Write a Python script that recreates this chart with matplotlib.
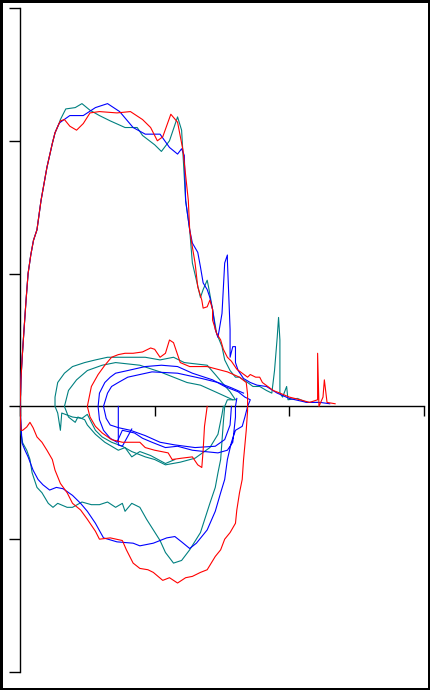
import matplotlib
matplotlib.use("Agg")
import matplotlib.pyplot as plt
from matplotlib.patches import Rectangle

RED = "#ff0000"
BLUE = "#0000ff"
TEAL = "#008080"

# volume (L) on x, flow (L/s) on y
# common steep rise of the forced expiration
rise_x = [0.0, 0.004, 0.007, 0.015, 0.03, 0.045, 0.06, 0.08, 0.10, 0.126, 0.156, 0.20, 0.24, 0.26, 0.29]
rise_y = [0.0, 0.087, 0.20, 0.35, 0.58, 0.80, 1.00, 1.14, 1.25, 1.33, 1.55, 1.80, 1.98, 2.06, 2.13]

# forced expiration, rest of curve
red_exp_x = [0.30, 0.33, 0.37, 0.42, 0.47, 0.52, 0.59, 0.72, 0.82, 0.91, 0.97, 1.02, 1.06, 1.12, 1.17, 1.21,
             1.25, 1.26, 1.28, 1.30, 1.32, 1.35, 1.36, 1.39, 1.41, 1.43, 1.43, 1.46, 1.49, 1.51, 1.54, 1.57,
             1.61, 1.65, 1.69, 1.71, 1.75, 1.78, 1.80, 1.84, 1.88, 1.93, 2.00, 2.08, 2.15, 2.21, 2.21, 2.22,
             2.25, 2.26, 2.28, 2.34]
red_exp_y = [2.15, 2.16, 2.11, 2.08, 2.13, 2.21, 2.22, 2.21, 2.22, 2.16, 2.10, 2.00, 2.03, 2.20, 2.14, 1.93,
             1.55, 1.33, 1.20, 1.08, 0.90, 0.80, 0.74, 0.75, 0.80, 0.73, 0.65, 0.55, 0.50, 0.43, 0.37, 0.34,
             0.28, 0.25, 0.22, 0.24, 0.22, 0.22, 0.18, 0.15, 0.12, 0.10, 0.07, 0.05, 0.03, 0.05, 0.40, 0.00,
             0.07, 0.20, 0.03, 0.02]

teal_exp_x = [0.30, 0.34, 0.41, 0.46, 0.52, 0.59, 0.67, 0.78, 0.87, 0.91, 1.00, 1.05, 1.11, 1.17, 1.20, 1.23,
              1.26, 1.28, 1.31, 1.34, 1.36, 1.39, 1.40, 1.43, 1.46, 1.50, 1.52, 1.56, 1.60, 1.63, 1.69, 1.73,
              1.78, 1.83, 1.87, 1.89, 1.91, 1.92, 1.93, 1.93, 1.95, 1.98, 1.99, 2.06, 2.13, 2.21]
teal_exp_y = [2.16, 2.24, 2.25, 2.28, 2.23, 2.19, 2.15, 2.10, 2.10, 2.04, 1.97, 1.92, 2.00, 2.18, 2.08, 1.55,
              1.33, 1.08, 0.95, 0.82, 0.88, 0.95, 0.90, 0.73, 0.55, 0.45, 0.35, 0.27, 0.22, 0.22, 0.18, 0.15,
              0.15, 0.12, 0.10, 0.27, 0.52, 0.67, 0.50, 0.10, 0.07, 0.15, 0.05, 0.06, 0.03, 0.03]

blue_exp_x = [0.30, 0.37, 0.47, 0.56, 0.65, 0.74, 0.84, 0.93, 1.04, 1.11, 1.17, 1.20, 1.22, 1.23, 1.26, 1.28,
              1.32, 1.34, 1.36, 1.39, 1.41, 1.43, 1.45, 1.47, 1.50, 1.52, 1.54, 1.54, 1.56, 1.56, 1.58, 1.60,
              1.60, 1.62, 1.66, 1.71, 1.76, 1.83, 1.91, 2.00, 2.13, 2.23, 2.30]
blue_exp_y = [2.14, 2.19, 2.19, 2.25, 2.28, 2.22, 2.10, 2.05, 2.05, 1.95, 1.90, 1.94, 1.89, 1.55, 1.33, 1.23,
              1.16, 1.05, 0.93, 0.88, 0.82, 0.73, 0.58, 0.52, 0.70, 1.08, 1.14, 1.10, 0.58, 0.37, 0.45, 0.45,
              0.33, 0.27, 0.21, 0.18, 0.16, 0.15, 0.10, 0.06, 0.03, 0.03, 0.02]

# forced inspiration followed by tidal loop
red_insp_x = [0.0, 0.007, 0.02, 0.05, 0.074, 0.097, 0.126, 0.163, 0.20, 0.24, 0.26, 0.30, 0.35, 0.39, 0.45,
              0.50, 0.56, 0.59, 0.67, 0.76, 0.79, 0.84, 0.89, 0.95, 0.99, 1.06, 1.11, 1.17, 1.23, 1.28, 1.34,
              1.39, 1.45, 1.49, 1.52, 1.56, 1.60, 1.61, 1.63, 1.65, 1.66, 1.68, 1.69, 1.69, 1.68,
              1.63, 1.54, 1.39, 1.26, 1.19, 1.17, 1.14, 1.11, 1.08, 1.04, 1.00, 0.97, 0.91, 0.84, 0.78,
              0.73, 0.68, 0.63, 0.58, 0.53, 0.50, 0.52, 0.56, 0.61, 0.68, 0.76, 0.83, 0.89, 0.93, 1.00,
              1.10, 1.13, 1.20, 1.28, 1.32, 1.35, 1.36, 1.37, 1.39]
red_insp_y = [0.0, -0.18, -0.18, -0.155, -0.12, -0.16, -0.23, -0.27, -0.33, -0.40, -0.48, -0.58, -0.65, -0.73,
              -0.78, -0.85, -0.94, -1.00, -0.99, -1.01, -1.08, -1.18, -1.22, -1.23, -1.25, -1.31, -1.29, -1.33,
              -1.29, -1.28, -1.25, -1.23, -1.13, -1.08, -1.00, -0.95, -0.88, -0.78, -0.65, -0.55, -0.40, -0.18,
              -0.03, 0.09, 0.18,
              0.22, 0.26, 0.30, 0.30, 0.33, 0.39, 0.48, 0.50, 0.40, 0.37, 0.43, 0.44, 0.41, 0.40, 0.40,
              0.39, 0.37, 0.31, 0.24, 0.15, 0.00, -0.08, -0.15, -0.20, -0.25, -0.27, -0.27, -0.27, -0.31,
              -0.33, -0.35, -0.40, -0.39, -0.38, -0.44, -0.46, -0.33, -0.15, 0.00]

teal_insp_x = [0.0, 0.007, 0.02, 0.05, 0.074, 0.09, 0.126, 0.163, 0.21, 0.245, 0.28, 0.35, 0.39, 0.46, 0.53,
               0.59, 0.65, 0.71, 0.76, 0.78, 0.83, 0.89, 0.94, 0.99, 1.04, 1.08, 1.14, 1.20, 1.26, 1.34, 1.41,
               1.45, 1.47, 1.49, 1.51, 1.52, 1.54, 1.60,
               1.56, 1.50, 1.45, 1.39, 1.22, 1.14, 1.04, 0.93, 0.78, 0.65, 0.56, 0.48, 0.39, 0.33, 0.28,
               0.26, 0.26, 0.28, 0.30, 0.31, 0.39, 0.46, 0.50, 0.53, 0.56, 0.61, 0.68, 0.76, 0.83, 0.93,
               1.00, 1.08, 1.19, 1.30, 1.41, 1.47, 1.50, 1.51]
teal_insp_y = [0.0, -0.20, -0.275, -0.33, -0.40, -0.50, -0.61, -0.65, -0.73, -0.76, -0.73, -0.76, -0.76, -0.72,
               -0.74, -0.74, -0.72, -0.76, -0.73, -0.79, -0.73, -0.76, -0.85, -0.93, -1.01, -1.10, -1.18, -1.16,
               -1.08, -0.95, -0.73, -0.61, -0.50, -0.40, -0.12, 0.00, 0.05, 0.05,
               0.11, 0.18, 0.24, 0.31, 0.33, 0.37, 0.35, 0.37, 0.37, 0.37, 0.35, 0.33, 0.30, 0.25, 0.18,
               0.07, 0.00, -0.05, -0.18, -0.05, -0.08, -0.09, -0.06, -0.12, -0.18, -0.23, -0.27, -0.30,
               -0.34, -0.38, -0.40, -0.44, -0.42, -0.39, -0.31, -0.21, -0.06, 0.00]

blue_insp_x = [0.0, 0.015, 0.037, 0.06, 0.097, 0.134, 0.17, 0.22, 0.27, 0.32, 0.39, 0.45, 0.50, 0.56, 0.62,
               0.72, 0.84, 0.89, 0.99, 1.09, 1.15, 1.20, 1.26, 1.31, 1.39, 1.45, 1.49, 1.52, 1.54, 1.57, 1.60,
               1.65, 1.67, 1.69, 1.71,
               1.67, 1.62, 1.52, 1.43, 1.28, 1.17, 1.05, 0.93, 0.80, 0.71, 0.67, 0.63, 0.59, 0.58, 0.59,
               0.62, 0.67, 0.72, 0.76, 0.85, 0.91, 0.98, 1.08, 1.17, 1.28, 1.37, 1.47, 1.54, 1.58, 1.60,
               1.60, 1.61]
blue_insp_y = [0.0, -0.275, -0.33, -0.38, -0.48, -0.55, -0.59, -0.63, -0.61, -0.62, -0.67, -0.73, -0.79, -0.88,
               -0.99, -1.02, -1.03, -1.05, -1.03, -0.99, -0.98, -1.02, -1.07, -1.03, -0.93, -0.79, -0.65, -0.55,
               -0.40, -0.27, -0.18, -0.15, -0.08, 0.00, 0.05,
               0.07, 0.11, 0.15, 0.20, 0.25, 0.30, 0.31, 0.30, 0.27, 0.25, 0.22, 0.18, 0.10, 0.00, -0.10,
               -0.18, -0.24, -0.27, -0.18, -0.20, -0.24, -0.27, -0.31, -0.30, -0.33, -0.34, -0.35, -0.33,
               -0.27, -0.08, 0.00, 0.06]

# second tidal loops
teal_tidal_x = [1.58, 1.45, 1.34, 1.24, 1.04, 0.89, 0.71, 0.61, 0.50, 0.42, 0.36, 0.33, 0.36, 0.41, 0.43,
                0.48, 0.50, 0.56, 0.63, 0.73, 0.78, 0.83, 0.89, 0.97, 1.08, 1.15]
teal_tidal_y = [0.05, 0.11, 0.16, 0.18, 0.26, 0.31, 0.33, 0.31, 0.27, 0.20, 0.12, 0.00, -0.08, -0.12, -0.08,
                -0.10, -0.14, -0.21, -0.27, -0.33, -0.31, -0.38, -0.34, -0.37, -0.43, -0.40]

blue_tidal_x = [1.66, 1.57, 1.47, 1.35, 1.17, 0.98, 0.80, 0.73, 0.68, 0.65, 0.62, 0.64, 0.67, 0.73, 0.82,
                0.93, 1.04, 1.15, 1.30, 1.45, 1.52, 1.56, 1.57]
blue_tidal_y = [0.10, 0.14, 0.18, 0.21, 0.25, 0.26, 0.22, 0.18, 0.15, 0.10, 0.00, -0.09, -0.14, -0.16, -0.18,
                -0.22, -0.27, -0.29, -0.31, -0.30, -0.25, -0.14, 0.00]
blue_stub_x = [0.73, 0.73, 0.76, 0.83]
blue_stub_y = [0.00, -0.29, -0.30, -0.17]

x_ticks = [0, 1, 2, 3]
y_ticks = [-2, -1, 0, 1, 2, 3]

fig = plt.figure(figsize=(4.3, 6.9), dpi=100)
ax = fig.add_axes([20 / 430, 18 / 690, 404 / 430, 664 / 690])

lw = 0.8
curves = [
    (rise_x + teal_exp_x, rise_y + teal_exp_y, TEAL),
    (teal_insp_x, teal_insp_y, TEAL),
    (teal_tidal_x, teal_tidal_y, TEAL),
    (rise_x + blue_exp_x, rise_y + blue_exp_y, BLUE),
    (blue_insp_x, blue_insp_y, BLUE),
    (blue_tidal_x, blue_tidal_y, BLUE),
    (blue_stub_x, blue_stub_y, BLUE),
    (rise_x + red_exp_x, rise_y + red_exp_y, RED),
    (red_insp_x, red_insp_y, RED),
]
for xs, ys, c in curves:
    ax.plot(xs, ys, color=c, lw=lw)

ax.set_xlim(0, 3)
ax.set_ylim(-2, 3)
ax.spines['top'].set_visible(False)
ax.spines['right'].set_visible(False)
ax.spines['left'].set_position(('data', 0))
ax.spines['bottom'].set_position(('data', 0))
for s in ['left', 'bottom']:
    ax.spines[s].set_linewidth(1.0)
    ax.spines[s].set_zorder(0)
ax.set_xticks(x_ticks)
ax.set_yticks(y_ticks)
ax.set_xticklabels([])
ax.set_yticklabels([])
ax.tick_params(axis='x', direction='out', length=7.5, width=1.0)
ax.tick_params(axis='y', direction='out', length=8, width=1.0)
ax.patch.set_visible(False)

fig.patches.append(Rectangle((0, 0), 1, 1, transform=fig.transFigure, fill=False,
                             edgecolor='black', linewidth=3.6))

fig.savefig("out.png", dpi=100, facecolor='white')
